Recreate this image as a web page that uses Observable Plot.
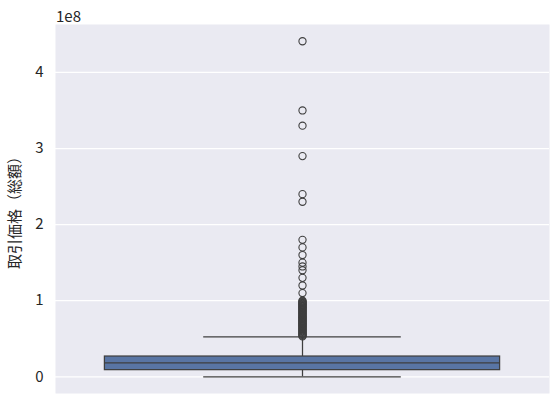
<!DOCTYPE html>
<html>
<head>
<meta charset="utf-8">
<script src="https://cdn.jsdelivr.net/npm/d3@7"></script>
<script src="https://cdn.jsdelivr.net/npm/@observablehq/plot@0.6"></script>
<style>
  body { margin: 0; background: #fff; }
  #chart { position: relative; width: 560px; height: 404px; }
  #offset { position: absolute; left: 56px; top: 5px; font: 15px "Noto Sans CJK JP", "DejaVu Sans", sans-serif; color: #262626; }
</style>
</head>
<body>
<div id="chart"><div id="offset">1e8</div></div>
<script>
// Box summary of 取引価格（総額） (yen)
const yLabel = "取引価格（総額）";
const whiskerLow = [0];
const q1 = [8700000];
const median = [18400000];
const q3 = [26600000];
const whiskerHigh = [52500000];
// Outliers (yen)
const outliers = [
  53000000, 54000000, 55000000, 56000000, 57000000, 58000000, 59000000, 60000000,
  61000000, 62000000, 63000000, 64000000, 65000000, 66000000, 67000000, 68000000,
  69000000, 70000000, 71000000, 72000000, 73000000, 74000000, 75000000, 76000000,
  77000000, 78000000, 79000000, 80000000, 81000000, 82000000, 83000000, 84000000,
  85000000, 86000000, 87000000, 88000000, 89000000, 90000000, 91000000, 92000000,
  93000000, 94000000, 95000000, 96000000, 97000000, 98000000, 99000000, 100000000,
  110000000, 120000000, 130000000, 140000000, 145000000, 150000000,
  160000000, 170000000, 180000000,
  230000000, 240000000, 290000000, 330000000, 350000000, 441000000
];
const yTicks = [0, 100000000, 200000000, 300000000, 400000000];

const box = [{pos: 0, lo: whiskerLow[0], q1: q1[0], med: median[0], q3: q3[0], hi: whiskerHigh[0]}];
const fl = outliers.map(v => ({pos: 0, v}));

const line = "#3f3f3f";
const chart = Plot.plot({
  width: 560,
  height: 404,
  marginTop: 24,
  marginBottom: 11,
  marginLeft: 55,
  marginRight: 11,
  style: {background: "transparent", fontFamily: "'Noto Sans CJK JP', 'DejaVu Sans', sans-serif", fontSize: "15px", color: "#262626"},
  x: {domain: [-0.5, 0.5], axis: null},
  y: {domain: [-22000000, 463000000]},
  marks: [
    Plot.frame({fill: "#eaeaf2", stroke: null}),
    Plot.gridY(yTicks, {stroke: "#fff", strokeOpacity: 1, strokeWidth: 1.25}),
    Plot.axisY(yTicks, {
      tickSize: 0, tickPadding: 12, tickFormat: d => d / 1e8,
      label: yLabel, labelAnchor: "center", labelArrow: "none", labelOffset: 46,
      fontSize: 15
    }),
    Plot.ruleX(box, {x: "pos", y1: "lo", y2: "q1", stroke: line, strokeWidth: 1.25}),
    Plot.ruleX(box, {x: "pos", y1: "q3", y2: "hi", stroke: line, strokeWidth: 1.25}),
    Plot.ruleY(box, {y: "lo", x1: d => d.pos - 0.2, x2: d => d.pos + 0.2, stroke: line, strokeWidth: 1.25}),
    Plot.ruleY(box, {y: "hi", x1: d => d.pos - 0.2, x2: d => d.pos + 0.2, stroke: line, strokeWidth: 1.25}),
    Plot.rect(box, {x1: d => d.pos - 0.4, x2: d => d.pos + 0.4, y1: "q1", y2: "q3", fill: "#5975a4", stroke: line, strokeWidth: 1.25}),
    Plot.ruleY(box, {y: "med", x1: d => d.pos - 0.4, x2: d => d.pos + 0.4, stroke: line, strokeWidth: 1.25}),
    Plot.dot(fl, {x: "pos", y: "v", r: 3.6, stroke: line, strokeWidth: 1.1, fill: "none"})
  ]
});
document.getElementById("chart").appendChild(chart);
chart.style.position = "absolute";
chart.style.left = "0";
chart.style.top = "0";
</script>
</body>
</html>
